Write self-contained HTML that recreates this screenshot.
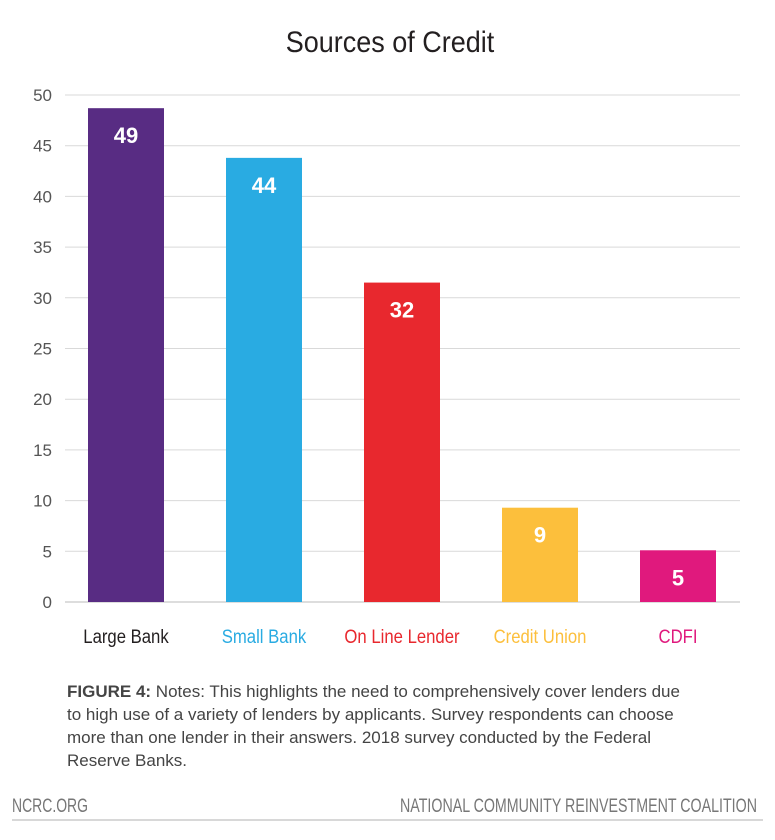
<!DOCTYPE html>
<html><head><meta charset="utf-8"><style>
body{margin:0;background:#fff;}
svg{display:block;font-family:"Liberation Sans",sans-serif;}
</style></head><body>
<svg id="chart" width="775" height="840">
<text x="390" y="52" text-anchor="middle" font-size="30" fill="#231f20" transform="translate(390,0) scale(0.9,1) translate(-390,0)">Sources of Credit</text>
<g id="grid"></g><g id="bars"></g><g id="xl"></g>
<text x="67" y="697" font-size="17" fill="#444"><tspan font-weight="bold">FIGURE 4:</tspan> Notes: This highlights the need to comprehensively cover lenders due</text>
<text x="67" y="720" font-size="17" fill="#444">to high use of a variety of lenders by applicants. Survey respondents can choose</text>
<text x="67" y="743" font-size="17" fill="#444">more than one lender in their answers. 2018 survey conducted by the Federal</text>
<text x="67" y="766" font-size="17" fill="#444">Reserve Banks.</text>
<text x="12" y="812" font-size="19" fill="#777" textLength="76" lengthAdjust="spacingAndGlyphs">NCRC.ORG</text>
<text x="757" y="812" font-size="19" fill="#777" text-anchor="end" textLength="357" lengthAdjust="spacingAndGlyphs">NATIONAL COMMUNITY REINVESTMENT COALITION</text>
<line x1="12" y1="820" x2="763" y2="820" stroke="#ccc" stroke-width="1.5"/>
</svg>
<script>
const categories=["Large Bank","Small Bank","On Line Lender","Credit Union","CDFI"];
const values=[48.7,43.8,31.5,9.3,5.1];
const valueLabels=["49","44","32","9","5"];
const yTicks=[0,5,10,15,20,25,30,35,40,45,50];
const colors=["#582c83","#29abe2","#e8282e","#fcbf3c","#e0197d"];
const NS="http://www.w3.org/2000/svg";
const y0=602,yTop=95,yMax=50;
function y(v){return y0-(v/yMax)*(y0-yTop);}
function x(i){return 126+i*138;}
function mk(t,a,p){const e=document.createElementNS(NS,t);for(const k in a)e.setAttribute(k,a[k]);p.appendChild(e);return e;}
const grid=document.getElementById('grid'),bars=document.getElementById('bars'),xl=document.getElementById('xl');
yTicks.forEach(t=>{
 const l=mk('line',{x1:65,x2:740,y1:y(t),y2:y(t),stroke:t===0?'#bbb':'#d9d9d9','stroke-width':1},grid);
 
 
 const tx=mk('text',{x:52,y:y(t)+6,'text-anchor':'end','font-size':17,fill:'#555'},grid);
 tx.textContent=t;
 
 
});
categories.forEach((c,i)=>{
 const r=mk('rect',{x:x(i)-38,y:y(values[i]),width:76,height:y0-y(values[i]),fill:colors[i]},bars);
 
 
 const vl=mk('text',{x:x(i),y:y(values[i])+35,'text-anchor':'middle','font-size':22,'font-weight':'bold',fill:'#fff'},bars);
 vl.textContent=valueLabels[i];
 
 
 const cl=mk('text',{x:x(i),y:643,'text-anchor':'middle','font-size':19,fill:i===0?'#231f20':colors[i],transform:`translate(${x(i)},0) scale(0.88,1) translate(${-x(i)},0)`},xl);
 cl.textContent=c;
 
 
});
</script>
</body></html>
